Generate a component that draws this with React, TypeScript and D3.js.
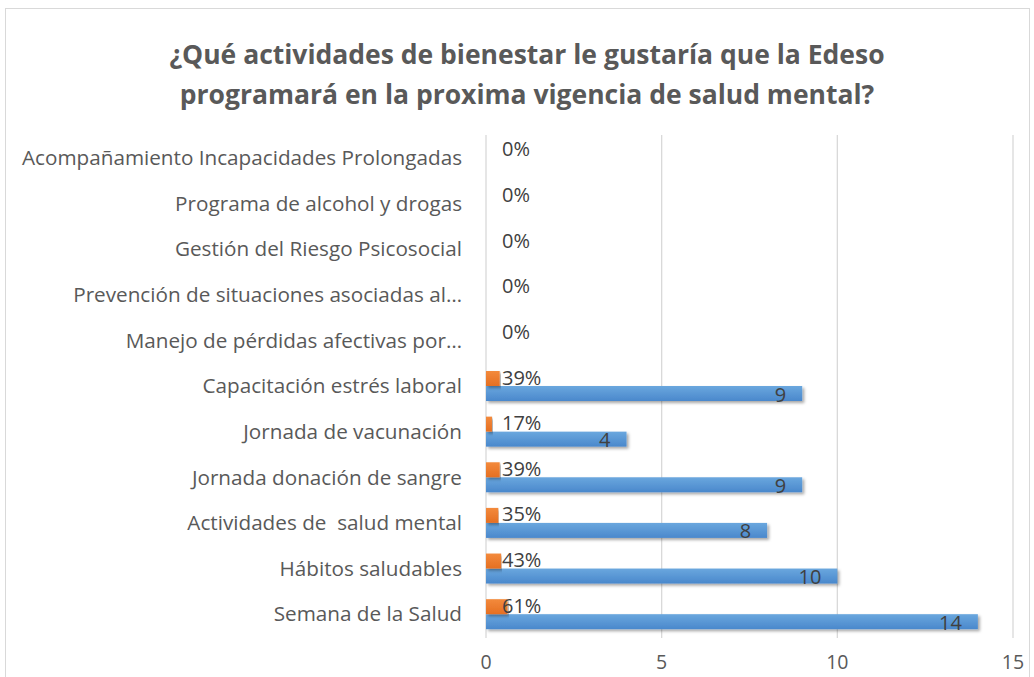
import React from "react";
import * as d3 from "d3";

const categories = [
  "Acompañamiento Incapacidades Prolongadas",
  "Programa de alcohol y drogas",
  "Gestión del Riesgo Psicosocial",
  "Prevención de situaciones asociadas al…",
  "Manejo de pérdidas afectivas por…",
  "Capacitación estrés laboral",
  "Jornada de vacunación",
  "Jornada donación de sangre",
  "Actividades de  salud mental",
  "Hábitos saludables",
  "Semana de la Salud",
];
const counts = [0, 0, 0, 0, 0, 9, 4, 9, 8, 10, 14];
const shares = [0, 0, 0, 0, 0, 0.39, 0.17, 0.39, 0.35, 0.43, 0.61];
const ticks = [0, 5, 10, 15];
const titleLines = [
  "¿Qué actividades de bienestar le gustaría que la Edeso",
  "programará en la proxima vigencia de salud mental?",
];

const W = 1034;
const H = 677;
const FONT = "'Open Sans', 'Noto Sans', sans-serif";

export default function App() {
  const x = d3.scaleLinear().domain([0, 15]).range([486, 1013]);
  const y = d3.scaleBand<string>().domain(categories).range([135, 637]);
  const barH = 15;

  return (
    <svg
      width={W}
      height={H}
      style={{ position: "absolute", left: 0, top: 0, background: "#fff" }}
      fontFamily={FONT}
    >
      <defs>
        <linearGradient id="blueG" x1="0" y1="0" x2="0" y2="1">
          <stop offset="0%" stopColor="#6AA7DE" />
          <stop offset="100%" stopColor="#4A88CC" />
        </linearGradient>
        <linearGradient id="orangeG" x1="0" y1="0" x2="0" y2="1">
          <stop offset="0%" stopColor="#F38A3C" />
          <stop offset="100%" stopColor="#E56F22" />
        </linearGradient>
        <filter id="shadow" x="-5%" y="-50%" width="110%" height="200%">
          <feDropShadow dx="2" dy="2" stdDeviation="1.8" floodColor="#000" floodOpacity="0.35" />
        </filter>
      </defs>
      <rect x={5.5} y={8.5} width={1024} height={700} fill="#fff" stroke="#D9D9D9" strokeWidth={1} />

      {titleLines.map((t, i) => (
        <text
          key={i}
          x={527}
          y={64 + i * 40}
          textAnchor="middle"
          fontSize={26.5}
          fontWeight="bold"
          fill="#595959"
        >
          {t}
        </text>
      ))}

      {ticks.map((t) => (
        <line
          key={t}
          x1={x(t)}
          x2={x(t)}
          y1={135}
          y2={638}
          stroke="#D9D9D9"
          strokeWidth={1.3}
        />
      ))}

      {categories.map((c, i) => {
        const cy = (y(c) ?? 0) + y.bandwidth() / 2;
        return (
          <g key={c}>
            <text
              x={462}
              y={cy}
              dy="0.35em"
              textAnchor="end"
              fontSize={20.7}
              fill="#595959"
              style={{ whiteSpace: "pre" }}
            >
              {c}
            </text>
            {counts[i] > 0 && (
              <rect
                x={x(0)}
                y={cy}
                width={x(counts[i]) - x(0)}
                height={barH}
                fill="url(#blueG)"
                filter="url(#shadow)"
              />
            )}
            {shares[i] > 0 && (
              <rect
                x={x(0)}
                y={cy - barH}
                width={x(shares[i]) - x(0)}
                height={barH}
                fill="url(#orangeG)"
                filter="url(#shadow)"
              />
            )}
            {counts[i] > 0 && (
              <text
                x={x(counts[i]) - 16}
                y={cy + barH / 2 + 1}
                dy="0.35em"
                textAnchor="end"
                fontSize={20}
                fill="#404040"
              >
                {counts[i]}
              </text>
            )}
            <text
              x={x(0) + 16}
              y={cy - barH / 2 - 1}
              dy="0.35em"
              textAnchor="start"
              fontSize={20}
              fill="#404040"
            >
              {Math.round(shares[i] * 100) + "%"}
            </text>
          </g>
        );
      })}

      {ticks.map((t) => (
        <text
          key={t}
          x={x(t)}
          y={662}
          dy="0.35em"
          textAnchor="middle"
          fontSize={19.5}
          fill="#595959"
        >
          {t}
        </text>
      ))}
    </svg>
  );
}
